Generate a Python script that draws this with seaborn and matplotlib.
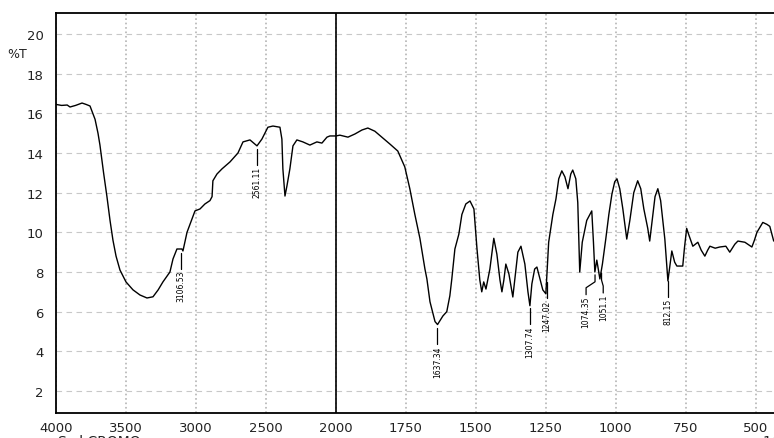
import numpy as np
import pandas as pd
import matplotlib
matplotlib.use("Agg")
import matplotlib.pyplot as plt
import seaborn as sns
from matplotlib.ticker import FixedLocator, MultipleLocator

# IR spectrum, wavenumber (1/cm) vs transmittance (%T)
wavenumber = [
    4000, 3960, 3920, 3900, 3860, 3830, 3814, 3785, 3757, 3721, 3700, 3686,
    3660, 3636, 3614, 3593, 3571, 3543, 3500, 3450, 3400, 3350, 3307, 3270,
    3236, 3186, 3164, 3136, 3110, 3100, 3093, 3064, 3043, 3029, 3007, 2971,
    2936, 2900, 2885, 2879, 2850, 2814, 2757, 2700, 2664, 2614, 2564, 2529,
    2486, 2450, 2400, 2386, 2379, 2364, 2350, 2329, 2307, 2279, 2236, 2186,
    2136, 2100, 2064, 2043, 2000,
    1986, 1957, 1932, 1907, 1886, 1861, 1836, 1807, 1779, 1754, 1736, 1718,
    1700, 1682, 1675, 1664, 1646, 1637, 1618, 1604, 1593, 1586, 1575, 1561,
    1550, 1536, 1521, 1507, 1496, 1486, 1479, 1472, 1464, 1450, 1436, 1425,
    1414, 1407, 1400, 1393, 1382, 1368, 1361, 1350, 1339, 1325, 1314, 1307,
    1300, 1290, 1282, 1271, 1261, 1250, 1240, 1225, 1214, 1204, 1193, 1182,
    1171, 1161, 1154, 1143, 1136, 1129, 1120, 1104, 1086, 1080, 1075, 1068,
    1057, 1048, 1036, 1025, 1014, 1004, 996, 986, 975, 961, 950, 936, 922,
    911, 900, 886, 879, 870, 860, 850, 840, 825, 814, 807, 800, 790, 782,
    770, 761, 755, 747, 740, 725, 707, 695, 682, 672, 664, 645, 629, 607,
    593, 575, 564, 539, 514, 505, 496, 475, 460, 450, 436,
]
transmittance = [
    16.45, 16.4, 16.42, 16.32, 16.4, 16.48, 16.52, 16.45, 16.37, 15.7, 15.0, 14.4,
    13.0, 11.8, 10.6, 9.6, 8.8, 8.1, 7.5, 7.1, 6.84, 6.69, 6.75, 7.1,
    7.5, 8.0, 8.66, 9.16, 9.16, 9.16, 9.06, 10.0, 10.4, 10.67, 11.08, 11.18,
    11.43, 11.6, 11.8, 12.6, 12.94, 13.2, 13.55, 14.0, 14.56, 14.66, 14.36, 14.7,
    15.3, 15.36, 15.3, 14.7, 13.2, 11.83, 12.34, 13.2, 14.36, 14.66, 14.56, 14.4,
    14.56, 14.5, 14.8, 14.86, 14.86,
    14.9, 14.8, 14.96, 15.16, 15.26, 15.1, 14.8, 14.45, 14.1, 13.3, 12.2, 10.9,
    9.7, 8.15, 7.65, 6.5, 5.5, 5.35, 5.78, 6.0, 6.8, 7.65, 9.16, 9.9,
    10.9, 11.43, 11.58, 11.18, 9.16, 7.6, 7.0, 7.5, 7.14, 8.15, 9.7, 8.9,
    7.6, 7.0, 7.6, 8.4, 7.9, 6.74, 7.6, 9.0, 9.3, 8.4, 7.0, 6.3,
    7.4, 8.15, 8.25, 7.65, 7.1, 6.9, 9.5, 10.9, 11.68, 12.7, 13.1, 12.8,
    12.2, 12.94, 13.14, 12.7, 11.5, 8.0, 9.5, 10.6, 11.08, 9.5, 8.0, 8.6,
    7.65, 8.4, 9.66, 10.9, 11.93, 12.55, 12.7, 12.2, 11.18, 9.66, 10.6, 12.0, 12.6,
    12.2, 11.18, 10.2, 9.56, 10.6, 11.8, 12.2, 11.6, 9.66, 7.55, 8.3, 9.06, 8.5, 8.3,
    8.3, 8.3, 9.2, 10.2, 9.9, 9.3, 9.5, 9.1, 8.8, 9.1, 9.3, 9.2, 9.26, 9.3,
    9.0, 9.4, 9.56, 9.5, 9.26, 9.6, 10.0, 10.5, 10.4, 10.3, 9.56,
]

peak_wn = [3106.53, 2561.11, 1637.34, 1307.74, 1247.02, 1074.35, 1051.1, 812.15]
peak_labels = ["3106.53", "2561.11", "1637.34", "1307.74", "1247.02",
               "1074.35", "1051.1", "812.15"]

major_x = [4000, 3500, 3000, 2500, 2000, 1750, 1500, 1250, 1000, 750, 500]
minor_x = [w for w in range(3900, 2000, -100) if w not in major_x] + \
          [w for w in range(1950, 440, -50) if w not in major_x]
major_y = list(range(2, 21, 2))

df = pd.DataFrame({"wn": wavenumber, "T": transmittance})

sns.set_style("white")
plt.rcParams['font.family'] = ['DejaVu Sans']


# wavenumber axis: below 2000 1/cm the scale is stretched 2x
def fwd(w):
    w = np.asarray(w, dtype=float)
    return np.where(w >= 2000, w, 2 * w - 2000)


def inv(u):
    u = np.asarray(u, dtype=float)
    return np.where(u >= 2000, u, (u + 2000) / 2)


fig = plt.figure(figsize=(7.74, 4.39), dpi=100)
ax = fig.add_axes([56 / 774, 1 - 414 / 439, 1 - 56 / 774, 400 / 439])
ax.set_xscale("function", functions=(fwd, inv))

sns.lineplot(data=df, x="wn", y="T", ax=ax, color="black", lw=1.0,
             estimator=None, sort=False)

ax.set_xlim(4000, 435)
ax.set_ylim(0.89, 21.06)

ax.xaxis.set_major_locator(FixedLocator(major_x))
ax.xaxis.set_minor_locator(FixedLocator(minor_x))
ax.set_xticklabels([str(v) for v in major_x])
ax.yaxis.set_major_locator(FixedLocator(major_y))
ax.yaxis.set_minor_locator(MultipleLocator(0.4))

ax.tick_params(axis="y", which="major", direction="out", length=8,
               width=1, color="black", labelsize=9.5, labelcolor="#222222", pad=1)
ax.tick_params(axis="y", which="minor", direction="out", length=4,
               width=1, color="black")
ax.tick_params(axis="x", which="major", direction="out", length=6,
               width=1, color="black", labelsize=9.5, labelcolor="#222222", pad=0)
ax.tick_params(axis="x", which="minor", direction="out", length=4,
               width=1, color="black")

ax.set_axisbelow(True)
ax.yaxis.grid(True, which="major", color="#c8c8c8", ls=(0, (5, 4)), lw=0.8)
ax.xaxis.grid(True, which="major", color="#b4b4b4", ls=":", lw=1.2)

for side in ["left", "bottom", "top"]:
    ax.spines[side].set_visible(True)
    ax.spines[side].set_color("black")
    ax.spines[side].set_linewidth(1.3)
ax.spines["right"].set_visible(False)

# break line at 2000 1/cm
ax.axvline(2000, color="black", lw=1.2)

ax.set_xlabel("")
ax.set_ylabel("")

# peak markers; crowded labels get an elbow leader (shift in 1/cm)
text_shift = {"1074.35": 32, "1051.1": -6}
wn_sorted = np.array(wavenumber[::-1], dtype=float)
t_sorted = np.array(transmittance[::-1], dtype=float)
for wn, lbl in zip(peak_wn, peak_labels):
    t0 = np.interp(wn, wn_sorted, t_sorted) - 0.2
    tx = wn + text_shift.get(lbl, 0)
    if tx == wn:
        t1 = t0 - 0.8
        ax.plot([wn, wn], [t0, t1], color="black", lw=0.9)
    else:
        t1 = t0 - 1.0
        ax.plot([wn, wn, tx, tx], [t0, t0 - 0.35, t0 - 0.65, t1],
                color="black", lw=0.9)
    ax.text(tx, t1 - 0.05, lbl, rotation=90, fontsize=5.5, ha="center", va="top",
            color="black")

fig.text(7 / 774, 1 - 54 / 439, "%T", fontsize=9, va="center", ha="left",
         color="#222222")
fig.text(57 / 774, 1 - 435 / 439, "Sod.CROMO", fontsize=10, va="top",
         ha="left", color="#222222")
fig.text(762 / 774, 1 - 435 / 439, "1/cm", fontsize=10, va="top",
         ha="left", color="#222222")

fig.savefig("out.png", dpi=100)
